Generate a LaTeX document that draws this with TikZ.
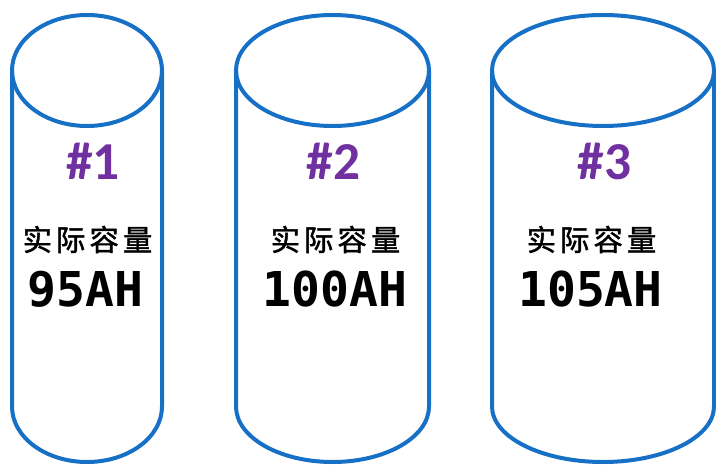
\documentclass[tikz,border=0pt]{standalone}
\usepackage{fontspec}
\setmainfont{Carlito}
\newfontfamily\cjk[LetterSpace=14, FakeBold=1.5]{Noto Sans CJK SC}
\newfontfamily\mono{DejaVu Sans Mono}
\definecolor{canblue}{HTML}{1570C6}
\definecolor{numpurple}{HTML}{7030A0}

\begin{document}
\begin{tikzpicture}[x=0.75pt, y=0.75pt,
    can/.style={draw=canblue, line width=3pt},
    num/.style={anchor=base, inner sep=0pt, text=numpurple, font=\fontsize{40}{40}\selectfont\bfseries},
    capline/.style={inner sep=0pt, font=\fontsize{22}{22}\selectfont\cjk},
    amp/.style={anchor=base, inner sep=0pt, font=\fontsize{36}{36}\selectfont\mono\bfseries}]
  \useasboundingbox (0,0) rectangle (716,464);
  % cylinders
  \draw [can] (87,393.5) ellipse [x radius=75, y radius=55.5];
  \draw [can] (12,393.5) -- (12,57.5) arc [start angle=180, end angle=360, x radius=75, y radius=55.5] -- (162,393.5);
  \draw [can] (332.5,393.5) ellipse [x radius=96.5, y radius=55.5];
  \draw [can] (236,393.5) -- (236,57.5) arc [start angle=180, end angle=360, x radius=96.5, y radius=55.5] -- (429,393.5);
  \draw [can] (603,393.5) ellipse [x radius=111, y radius=55.5];
  \draw [can] (492,393.5) -- (492,57.5) arc [start angle=180, end angle=360, x radius=111, y radius=55.5] -- (714,393.5);
  % labels
  \node [num] (N1) at (93,284) {\#1};
  \node [capline] (C1) at (87.5,224.5) {实际容量};
  \node [amp] (A1) at (85.5,157) {95AH};
  \node [num] (N2) at (333.5,284) {\#2};
  \node [capline] (C2) at (335.5,224.5) {实际容量};
  \node [amp] (A2) at (335,157) {100AH};
  \node [num] (N3) at (604.5,284) {\#3};
  \node [capline] (C3) at (591.5,224.5) {实际容量};
  \node [amp] (A3) at (590.5,157) {105AH};
\end{tikzpicture}
\end{document}
